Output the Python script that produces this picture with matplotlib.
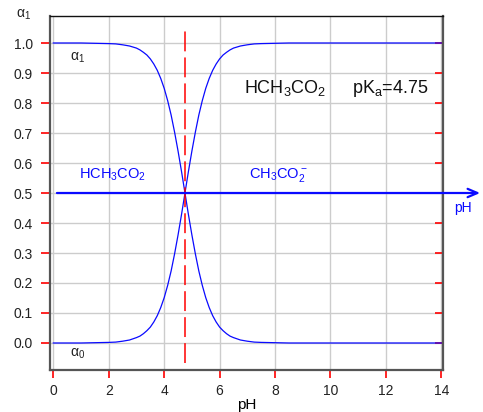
import matplotlib
matplotlib.use("Agg")
import matplotlib.pyplot as plt
from matplotlib.lines import TICKLEFT

plt.rcParams['font.family'] = ['Liberation Sans', 'DejaVu Sans']
plt.rcParams['mathtext.fontset'] = 'custom'
plt.rcParams['mathtext.rm'] = 'Liberation Sans'
plt.rcParams['mathtext.it'] = 'Liberation Sans:italic'

# values
PKA = 4.75
ph = [0.0, 1.0, 1.5, 2.0, 2.25, 2.5, 2.75,
      3.0, 3.125, 3.25, 3.375, 3.5, 3.625, 3.75, 3.875,
      4.0, 4.125, 4.25, 4.375, 4.5, 4.625, 4.75, 4.875,
      5.0, 5.125, 5.25, 5.375, 5.5, 5.625, 5.75, 5.875,
      6.0, 6.125, 6.25, 6.375, 6.5, 6.75, 7.0, 7.25, 7.5,
      8.0, 8.5, 9.0, 10.0, 14.0]
alpha_acid = [1.000, 1.000, 0.999, 0.998, 0.997, 0.994, 0.990,
              0.983, 0.977, 0.969, 0.960, 0.947, 0.930, 0.909, 0.882,
              0.849, 0.808, 0.760, 0.703, 0.640, 0.572, 0.500, 0.428,
              0.360, 0.297, 0.240, 0.192, 0.151, 0.118, 0.091, 0.070,
              0.053, 0.041, 0.031, 0.023, 0.018, 0.010, 0.006, 0.003, 0.002,
              0.001, 0.000, 0.000, 0.000, 0.000]
alpha_base = [0.000, 0.000, 0.001, 0.002, 0.003, 0.006, 0.010,
              0.018, 0.023, 0.031, 0.041, 0.053, 0.070, 0.091, 0.118,
              0.151, 0.192, 0.240, 0.297, 0.360, 0.428, 0.500, 0.572,
              0.640, 0.703, 0.760, 0.808, 0.849, 0.882, 0.909, 0.930,
              0.947, 0.960, 0.969, 0.977, 0.983, 0.990, 0.994, 0.997, 0.998,
              0.999, 1.000, 1.000, 1.000, 1.000]
x_ticks = [0, 2, 4, 6, 8, 10, 12, 14]
y_ticks = [0.0, 0.1, 0.2, 0.3, 0.4, 0.5, 0.6, 0.7, 0.8, 0.9, 1.0]

BLUE = "#0a0aff"
RED = "#ff0000"

fig = plt.figure(figsize=(4.83, 4.12), dpi=100)
ax = fig.add_axes([50 / 483, 42 / 412, 393 / 483, 354 / 412])

ax.plot(ph, alpha_acid, color=BLUE, lw=0.9)
ax.plot(ph, alpha_base, color=BLUE, lw=0.9)

# pKa marker
ax.plot([PKA, PKA], [-0.065, 1.057], color=RED, lw=1.1, dashes=(13, 4),
        clip_on=False)

# pH axis arrow at alpha = 0.5
ax.annotate("", xy=(15.4, 0.5), xytext=(0.13, 0.5),
            arrowprops=dict(arrowstyle="->,head_length=0.7,head_width=0.3",
                            color=BLUE, lw=1.6, shrinkA=0, shrinkB=0),
            annotation_clip=False)
ax.text(14.77, 0.45, "pH", color=BLUE, fontsize=10, ha="center", va="center",
        clip_on=False)

ax.text(0.6, 0.95, "α$_1$", fontsize=10, ha="left", va="center", color="#222222")
ax.text(0.6, -0.035, "α$_0$", fontsize=10, ha="left", va="center", color="#222222")
ax.text(6.89, 0.85, "HCH$_3$CO$_2$", fontsize=13, ha="left", va="center",
        color="#111111")
ax.text(10.78, 0.85, r"pK$_\mathrm{a}$=4.75", fontsize=13, ha="left",
        va="center", color="#111111")
ax.text(0.93, 0.56, "HCH$_3$CO$_2$", fontsize=10.5, ha="left", va="center",
        color=BLUE)
ax.text(7.06, 0.56, "CH$_3$CO$_2^-$", fontsize=10.5, ha="left", va="center",
        color=BLUE)

fig.text(16 / 483, 1 - 15 / 412, "α$_1$", fontsize=10, ha="left", va="center",
         color="#222222")

ax.set_xlim(-0.12, 14.06)
ax.set_ylim(-0.09, 1.09)
ax.set_xticks(x_ticks)
ax.set_yticks(y_ticks)
ax.set_yticklabels([f"{v:.1f}" for v in y_ticks])
ax.set_xlabel("pH", fontsize=11, labelpad=0)

ax.grid(True, color="#cccccc", lw=1)
ax.set_axisbelow(True)
ax.tick_params(axis="x", direction="out", length=6, color=RED, width=1.2,
               labelsize=10, pad=4, labelcolor="#222222")
ax.tick_params(axis="y", direction="out", length=6.5, color=RED, width=1.2,
               labelsize=10, pad=6, labelcolor="#222222")
ax.tick_params(axis="y", which="both", right=True)
for t in ax.yaxis.get_major_ticks():
    t.tick2line.set_marker(TICKLEFT)
    t.tick2line.set_markersize(6)

for side in ("left", "right", "bottom"):
    ax.spines[side].set_color("#555555")
    ax.spines[side].set_linewidth(1.6)
ax.spines["top"].set_color("#111111")
ax.spines["top"].set_linewidth(1.0)

fig.savefig("out.png", dpi=100)
